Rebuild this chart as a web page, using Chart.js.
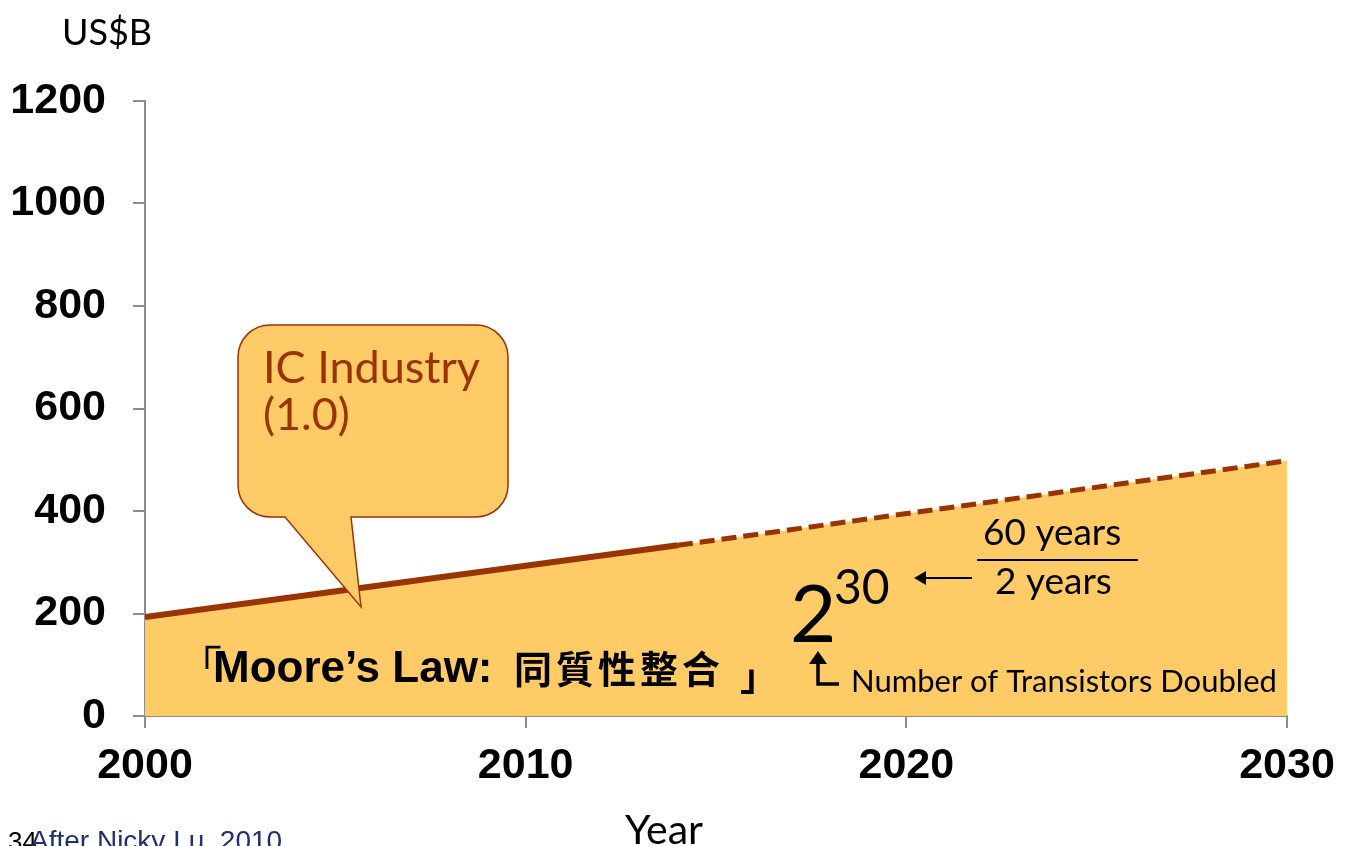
<!DOCTYPE html>
<html>
<head>
<meta charset="utf-8">
<script src="https://cdn.jsdelivr.net/npm/chart.js@4"></script>
<style>
  html, body { margin: 0; padding: 0; background: #fff; }
  canvas { display: block; }
</style>
</head>
<body>
<canvas id="chart" width="1348" height="846"></canvas>
<script>
// values (US$B); after 2014 the line is dashed (projection)
const years = [2000, 2014, 2030];
const sales = [193, 333, 498];
const dashFromIndex = 1;
const xTicks = [2000, 2010, 2020, 2030];
const yTicks = [0, 200, 400, 600, 800, 1000, 1200];

const brown = "#993300";
const fillCol = "#FECB66";
const tickFont = { family: "'Liberation Sans', Arial, sans-serif", size: 43, weight: "bold" };
const textFam = "Lato, 'Open Sans', sans-serif";

const points = years.map((x, i) => ({ x, y: sales[i] }));

const annotations = {
  id: "annotations",
  afterDatasetsDraw(chart) {
    const c = chart.ctx;
    c.save();

    // callout bubble
    c.beginPath();
    const x0 = 238, y0 = 325, x1 = 508, y1 = 517, r = 32;
    c.moveTo(x0 + r, y0);
    c.lineTo(x1 - r, y0);
    c.arcTo(x1, y0, x1, y0 + r, r);
    c.lineTo(x1, y1 - r);
    c.arcTo(x1, y1, x1 - r, y1, r);
    c.lineTo(351, y1);
    c.lineTo(361, 607);
    c.lineTo(285, y1);
    c.lineTo(x0 + r, y1);
    c.arcTo(x0, y1, x0, y1 - r, r);
    c.lineTo(x0, y0 + r);
    c.arcTo(x0, y0, x0 + r, y0, r);
    c.closePath();
    c.fillStyle = fillCol;
    c.fill();
    c.lineWidth = 1.5;
    c.strokeStyle = brown;
    c.stroke();

    c.fillStyle = brown;
    c.font = "45px " + textFam;
    c.textBaseline = "alphabetic";
    c.textAlign = "left";
    c.fillText("IC Industry", 263, 383);
    c.fillText("(1.0)", 263, 430);

    // Moore's law label
    c.fillStyle = "#000";
    c.font = "bold 44px 'Liberation Sans', Arial, sans-serif";
    c.fillText("「", 180, 682);
    c.fillText("Moore’s Law:", 213, 682);
    c.font = "bold 38px 'Noto Sans CJK TC', sans-serif";
    c.letterSpacing = "4px";
    c.fillText("同質性整合", 514, 683);
    c.letterSpacing = "0px";
    c.fillText("」", 740, 690);

    // 2^30
    c.font = "80px " + textFam;
    c.fillText("2", 790, 642);
    c.font = "48px " + textFam;
    c.fillText("30", 834, 604);

    // arrow from fraction
    c.strokeStyle = "#000";
    c.lineWidth = 2;
    c.beginPath();
    c.moveTo(972, 578);
    c.lineTo(918, 578);
    c.stroke();
    c.beginPath();
    c.moveTo(914, 578);
    c.lineTo(926, 571);
    c.lineTo(926, 585);
    c.closePath();
    c.fill();

    // fraction 60 years / 2 years
    c.font = "37px " + textFam;
    c.fillText("60 years", 983, 545);
    c.fillText("2 years", 995, 594);
    c.beginPath();
    c.moveTo(977, 560);
    c.lineTo(1138, 560);
    c.stroke();

    // bent up arrow
    c.lineWidth = 3.5;
    c.beginPath();
    c.moveTo(818, 660);
    c.lineTo(818, 684);
    c.lineTo(839, 684);
    c.stroke();
    c.beginPath();
    c.moveTo(818, 651);
    c.lineTo(809, 664);
    c.lineTo(827, 664);
    c.closePath();
    c.fill();

    c.font = "31px " + textFam;
    c.fillText("Number of Transistors Doubled", 851, 692);

    // axis unit and title
    c.font = "36px " + textFam;
    c.textAlign = "center";
    c.fillText("US$B", 107, 45);
    c.font = "41px " + textFam;
    c.fillText("Year", 664, 844);

    // footnote
    c.textAlign = "left";
    c.font = "26px 'Liberation Sans', Arial, sans-serif";
    c.fillStyle = "#000";
    c.fillText("34", 8, 850);
    c.fillStyle = "#1F2F6F";
    c.font = "28px 'Liberation Sans', Arial, sans-serif";
    c.fillText("After Nicky Lu, 2010", 30, 850);

    c.restore();
  }
};

new Chart(document.getElementById("chart"), {
  type: "line",
  data: {
    datasets: [
      {
        // the line, solid then dashed
        label: "IC Industry",
        data: points,
        borderColor: brown,
        borderWidth: 6,
        fill: false,
        pointRadius: 0,
        tension: 0,
        order: 0,
        segment: {
          borderDash: (ctx) => (ctx.p0DataIndex >= dashFromIndex ? [15, 7] : undefined),
          borderWidth: (ctx) => (ctx.p0DataIndex >= dashFromIndex ? 5 : 6),
        },
      },
      {
        // area under the same line
        label: "IC Industry area",
        data: points,
        borderWidth: 0,
        borderColor: "rgba(0,0,0,0)",
        backgroundColor: fillCol,
        fill: "origin",
        pointRadius: 0,
        tension: 0,
        order: 1,
      },
    ],
  },
  options: {
    responsive: false,
    animation: false,
    layout: { padding: { top: 101, right: 61, left: 0, bottom: 0 } },
    plugins: {
      legend: { display: false },
      tooltip: { enabled: false },
    },
    scales: {
      x: {
        type: "linear",
        min: xTicks[0],
        max: xTicks[xTicks.length - 1],
        afterBuildTicks: (s) => { s.ticks = xTicks.map((v) => ({ value: v })); },
        afterFit: (s) => { s.height = 130; },
        ticks: {
          color: "#000",
          font: tickFont,
          padding: 12,
          callback: (v) => String(v),
        },
        grid: { drawOnChartArea: false, color: "#8c8c8c", tickLength: 12, lineWidth: 2 },
        border: { color: "#8c8c8c", width: 2 },
      },
      y: {
        min: yTicks[0],
        max: yTicks[yTicks.length - 1],
        afterBuildTicks: (s) => { s.ticks = yTicks.map((v) => ({ value: v })); },
        afterFit: (s) => { s.width = 145; },
        ticks: {
          color: "#000",
          font: tickFont,
          padding: 27,
          callback: (v) => String(v),
        },
        grid: { drawOnChartArea: false, color: "#8c8c8c", tickLength: 12, lineWidth: 2 },
        border: { color: "#8c8c8c", width: 2 },
      },
    },
  },
  plugins: [annotations],
});
</script>
</body>
</html>
